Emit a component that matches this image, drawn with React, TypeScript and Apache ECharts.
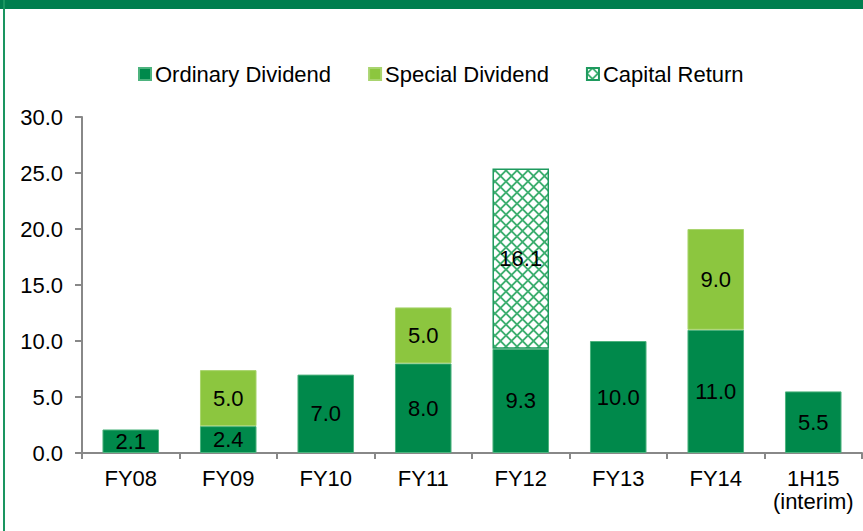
import React, { useEffect, useRef } from "react";
import * as echarts from "echarts";

const categories = ["FY08", "FY09", "FY10", "FY11", "FY12", "FY13", "FY14", "1H15\n(interim)"];
const ordinary = [2.1, 2.4, 7.0, 8.0, 9.3, 10.0, 11.0, 5.5];
const special: (number | null)[] = [null, 5.0, null, 5.0, null, null, 9.0, null];
const capitalReturn: (number | null)[] = [null, null, null, null, 16.1, null, null, null];
const yTicks = { min: 0, max: 30, interval: 5 };

const FONT = "'Liberation Sans', Arial, sans-serif";
const FS = 22;

function makeLattice(): string {
  const c = document.createElement("canvas");
  const s = 11;
  c.width = s;
  c.height = s;
  const ctx = c.getContext("2d")!;
  ctx.fillStyle = "#ffffff";
  ctx.fillRect(0, 0, s, s);
  ctx.strokeStyle = "#3DAE6F";
  ctx.lineWidth = 1.8;
  ctx.beginPath();
  ctx.moveTo(0, s / 2);
  ctx.lineTo(s / 2, 0);
  ctx.lineTo(s, s / 2);
  ctx.lineTo(s / 2, s);
  ctx.closePath();
  ctx.stroke();
  return c.toDataURL();
}

export default function App() {
  const ref = useRef<HTMLDivElement>(null);
  useEffect(() => {
    if (!ref.current) return;
    const chart = echarts.init(ref.current, undefined, { renderer: "svg" });
    const lattice = { image: makeLattice(), repeat: "repeat" } as any;
    const label = {
      show: true,
      position: "inside",
      color: "#000",
      fontSize: FS,
      fontFamily: FONT,
      formatter: (p: any) => (p.value == null ? "" : Number(p.value).toFixed(1)),
    };
    chart.setOption({
      animation: false,
      backgroundColor: "#fff",
      graphic: [
        { type: "rect", shape: { x: 0, y: 0, width: 863, height: 9 }, style: { fill: "#007E4E" }, z: 100 },
        { type: "rect", shape: { x: 3, y: 0, width: 2, height: 531 }, style: { fill: "#1A9560" }, z: 100 },
      ],
      legend: {
        left: 133,
        top: 58,
        itemWidth: 12,
        itemHeight: 12,
        itemGap: 37,
        icon: "rect",
        textStyle: { fontSize: FS, color: "#000", fontFamily: FONT, padding: [0, 0, 0, -1] },
        data: ["Ordinary Dividend", "Special Dividend", "Capital Return"],
      },
      grid: { left: 82, right: 1, top: 117, bottom: 78 },
      xAxis: {
        type: "category",
        data: categories,
        axisLine: { lineStyle: { color: "#888", width: 2 } },
        axisTick: { show: true, interval: 0, length: 6, lineStyle: { color: "#888", width: 2 } },
        axisLabel: { interval: 0, color: "#000", fontSize: FS, fontFamily: FONT, margin: 14, lineHeight: 23 },
      },
      yAxis: {
        type: "value",
        min: yTicks.min,
        max: yTicks.max,
        interval: yTicks.interval,
        axisLine: { show: true, lineStyle: { color: "#888", width: 2 } },
        axisTick: { show: true, length: 7, lineStyle: { color: "#888", width: 2 } },
        splitLine: { show: false },
        axisLabel: {
          color: "#000",
          fontSize: FS,
          fontFamily: FONT,
          margin: 19,
          formatter: (v: number) => v.toFixed(1),
        },
      },
      series: [
        {
          name: "Ordinary Dividend",
          type: "bar",
          stack: "a",
          barWidth: "58%",
          data: ordinary,
          itemStyle: { color: "#00894B", borderColor: "#4DB37E", borderWidth: 1 },
          label,
        },
        {
          name: "Special Dividend",
          type: "bar",
          stack: "a",
          data: special,
          itemStyle: { color: "#8CC63F", borderColor: "#A9D46F", borderWidth: 1 },
          label,
        },
        {
          name: "Capital Return",
          type: "bar",
          stack: "a",
          data: capitalReturn,
          itemStyle: { color: lattice, borderColor: "#1E9A5E", borderWidth: 1.5 },
          label,
        },
      ],
    });
    return () => chart.dispose();
  }, []);
  return (
    <div
      ref={ref}
      style={{ position: "fixed", left: 0, top: 0, width: 863, height: 531 }}
    />
  );
}
